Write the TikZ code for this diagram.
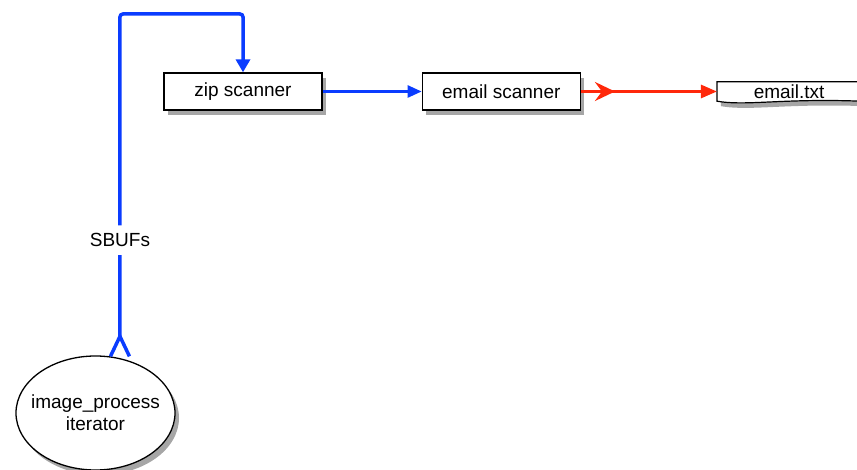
\documentclass[tikz,border=0pt]{standalone}
\usepackage{fontspec}
\setmainfont{Liberation Sans}
\usetikzlibrary{positioning,arrows.meta,shadows,shapes.geometric,backgrounds,decorations.markings}
\definecolor{feedblue}{RGB}{10,60,255}
\definecolor{outred}{RGB}{255,40,10}

\begin{document}
\begin{tikzpicture}[
    x=1pt, y=-1pt,
    every node/.style={font=\fontsize{19}{22}\selectfont, inner sep=2pt},
    shadowed/.style={drop shadow={shadow xshift=4pt, shadow yshift=-5pt, opacity=0.35, fill=black}},
    scanner/.style={draw, line width=1.3pt, fill=white, minimum width=158pt, minimum height=37pt, shadowed},
    feed/.style={draw=feedblue, line width=3.5pt, rounded corners=3pt},
    link/.style={draw=feedblue, line width=2.6pt},
    result/.style={draw=outred, line width=2.8pt,
        decoration={markings, mark=at position 34pt with {\arrow{Stealth[length=20pt,width=19pt,inset=7pt]}}},
        postaction=decorate}
]
\useasboundingbox (0,0) rectangle (857,470);

\node[scanner] (zip) at (243,91.5) {zip scanner};
\node[scanner, right=99pt of zip] (email) {email scanner};
\node[minimum width=144pt, minimum height=19pt, inner sep=0pt, right=136pt of email] (txt) {email.txt};
\node[ellipse, draw, line width=1.3pt, fill=white, minimum width=159pt, minimum height=114pt,
      inner xsep=-9pt, inner ysep=0pt, align=center, shadowed] (iter) at (95.5,413) {image\_process\\iterator};
\coordinate (top) at (0,14);

% output file with wavy bottom
\begin{pgfonlayer}{background}
\draw[line width=1.2pt, fill=white, shadowed]
    (txt.south west) -- (txt.north west) -- (txt.north east) -- (txt.south east)
    .. controls +(-80,-3) and +(30,5) .. (txt.south west) -- cycle;
\end{pgfonlayer}

\draw[feed, {Straight Barb[reversed,length=20pt,width=19pt]}-{Triangle[length=13pt,width=14pt]}]
    (iter.66) -- node[fill=white, inner ysep=8pt, pos=0.343] (sbufs) {SBUFs} (iter.66 |- top) -| (zip.north);
\draw[link, -{Triangle[length=14pt,width=12pt]}] (zip) -- (email);
\draw[result, -{Triangle[length=16pt,width=13pt]}] (email) -- (txt);
\end{tikzpicture}
\end{document}
